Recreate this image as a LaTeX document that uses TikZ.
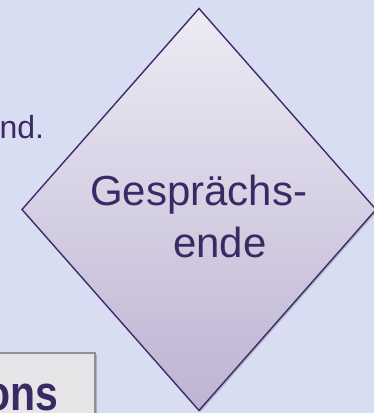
\documentclass[tikz,border=0pt]{standalone}
\usepackage{fontspec}
\setmainfont{Liberation Sans}
\usetikzlibrary{shapes.geometric,shadows}
\definecolor{bgc}{HTML}{D9DDF1}
\definecolor{dtop}{HTML}{EDEBF4}
\definecolor{dbot}{HTML}{BDB4D2}
\definecolor{dline}{HTML}{3E2A6E}
\definecolor{txt}{HTML}{3B2966}
\definecolor{boxfill}{HTML}{E6E6E9}
\definecolor{boxline}{HTML}{8E9196}
\tikzset{
  decision/.style={diamond, draw=dline, line width=1.4pt, inner sep=0pt, outer sep=0pt,
    minimum width=354pt, minimum height=402pt, top color=dtop, bottom color=dbot,
    drop shadow={shadow xshift=1.5pt, shadow yshift=-1.5pt, opacity=0.18, fill=black}},
  labeltext/.style={text=txt, inner sep=0pt, outer sep=0pt},
  titlebox/.style={draw=boxline, line width=1.5pt, fill=boxfill,
    drop shadow={shadow xshift=1.5pt, shadow yshift=-1.5pt, opacity=0.2, fill=black}}
}
\begin{document}
\begin{tikzpicture}[x=1pt,y=-1pt]
\useasboundingbox (0,0) rectangle (374,413);
\clip (0,0) rectangle (374,413);
\fill[bgc] (0,0) rectangle (374,413);
\node[decision] (dec) at (199,209.5) {};
\node[labeltext, anchor=base west, align=left, font=\fontsize{42}{52}\selectfont] (dectext) at (90,257)
  {Gesprächs-\\\hspace*{83pt}ende};
\node[labeltext, anchor=base east, font=\fontsize{32}{38}\selectfont] (ndtext) at (44,138) {nd.};
\path[titlebox] (-20,353) rectangle (95,440);
\node[labeltext, anchor=base east, font=\bfseries\fontsize{41}{50}\selectfont] (onstext) at (58,410) {\scalebox{1}[1.2]{ons}};
\end{tikzpicture}
\end{document}
